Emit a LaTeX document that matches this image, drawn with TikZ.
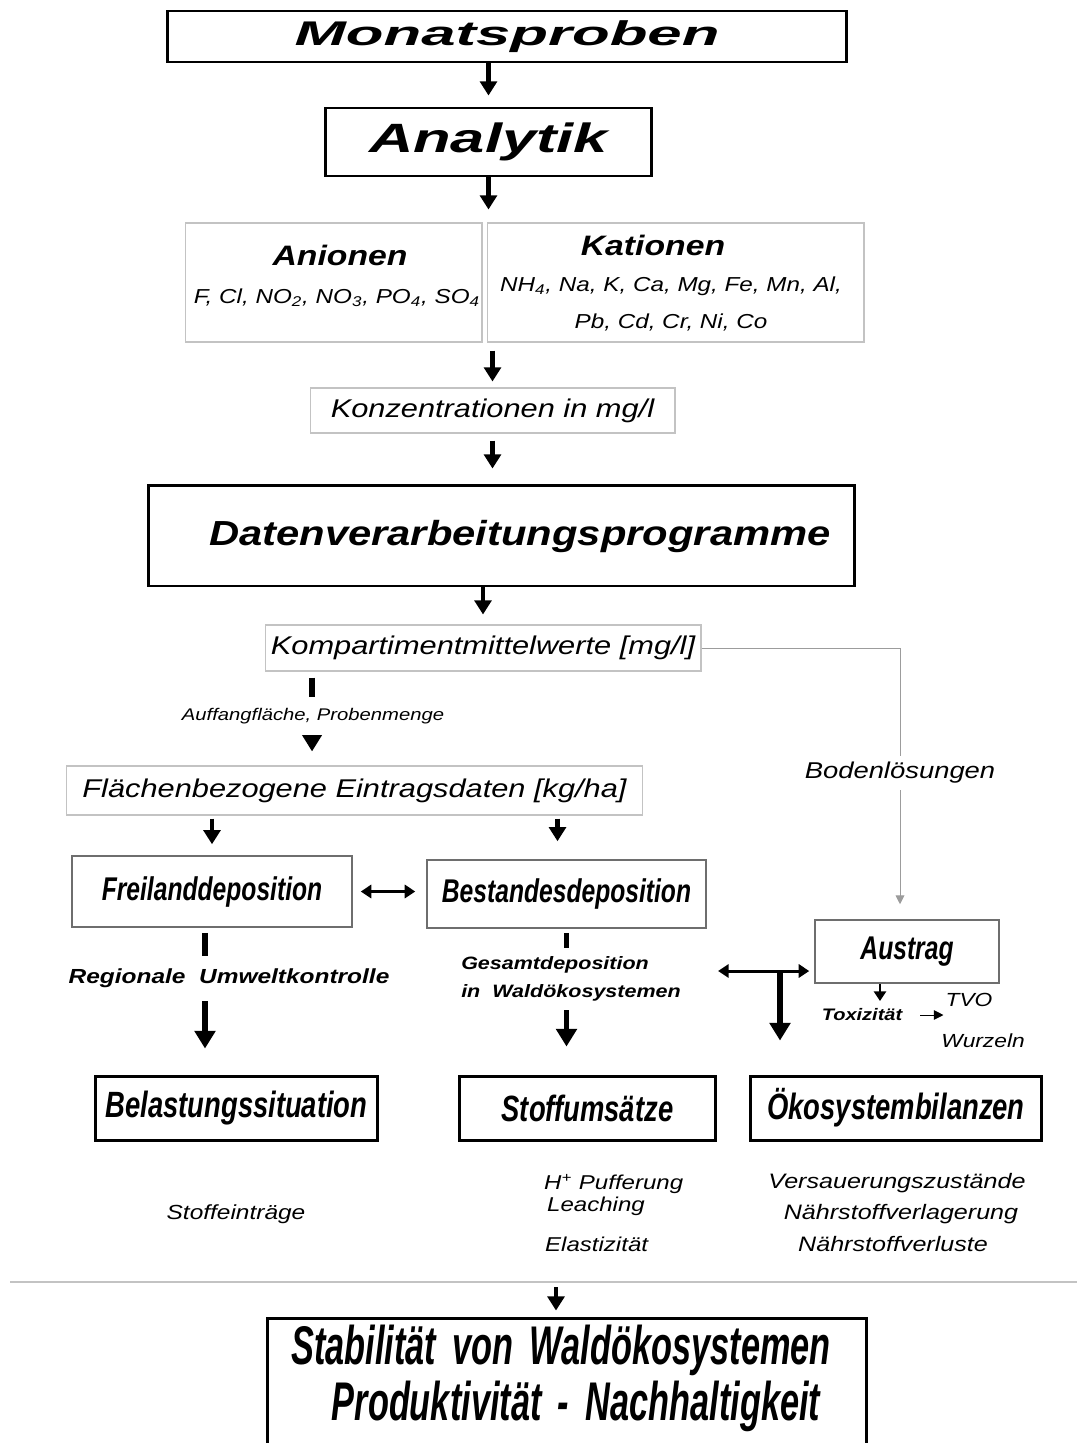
\documentclass[tikz,border=0pt]{standalone}
\usepackage{fontspec}
\setmainfont{Liberation Sans}[FakeStretch=1.2]
\newfontfamily\condfont{Liberation Sans}[FakeStretch=0.75]
\newfontfamily\tallfont{Liberation Sans}[FakeStretch=0.63]
\newfontfamily\widefont{Liberation Sans}[FakeStretch=1.5]
\newfontfamily\widerfont{Liberation Sans}[FakeStretch=1.8]
\usepackage{tikz}
\usetikzlibrary{arrows.meta}
\definecolor{boxgray}{RGB}{195,195,195}
\definecolor{midgray}{RGB}{110,110,110}
\newcommand{\fsz}[1]{\fontsize{#1}{#1}\selectfont}
\newcommand{\gap}{\hspace{0.3em}}

\begin{document}
\begin{tikzpicture}[x=0.02cm, y=-0.02cm]
    \tikzstyle{heavybox} = [rectangle, draw=black, line width=1.7pt]
    \tikzstyle{lightbox} = [rectangle, draw=boxgray, line width=0.6pt]
    \tikzstyle{midbox} = [rectangle, draw=midgray, line width=0.9pt]
    \tikzstyle{italictext} = [font=\itshape\fsz{14.6}]
    \tikzstyle{condhead} = [font=\condfont\bfseries\itshape\fsz{18.7}]
    \tikzstyle{resulthead} = [font=\condfont\bfseries\itshape\fsz{20.8}]
    \tikzstyle{flow} = [line width=2.4pt, -{Triangle[length=8pt,width=9.5pt]}]
    \tikzstyle{bigflow} = [line width=3.2pt, -{Triangle[length=10pt,width=11.5pt]}]
    \tikzstyle{twoway} = [line width=1.7pt, {Triangle[length=6pt,width=7.5pt]}-{Triangle[length=6pt,width=7.5pt]}]
    \tikzstyle{feed} = [draw=boxgray!80!black, line width=0.5pt, -{Triangle[length=5pt,width=5pt]}]
    \tikzstyle{smallhead} = [line width=1pt, -{Triangle[length=5.5pt,width=7pt]}]
    \tikzstyle{pointer} = [line width=0.5pt, -{Triangle[length=5.5pt,width=5.5pt]}]

    \useasboundingbox (0,0) rectangle (1077,1443);
    \clip (0,0) rectangle (1077,1443);

    % Sampling and analysis
    \node [heavybox, minimum width=13.6cm, minimum height=1.02cm, font=\widerfont\bfseries\itshape\fsz{19.5}] (monat) at (507,36.5) {Monatsproben};
    \node [heavybox, minimum width=6.54cm, minimum height=1.36cm, font=\widefont\bfseries\itshape\fsz{23.3}] (analytik) at (488.5,142) {Analytik};

    \node [lightbox, minimum width=5.94cm, minimum height=2.38cm] (anion) at (333.5,282.5) {};
    \node [lightbox, minimum width=7.54cm, minimum height=2.38cm] (kation) at (675.5,282.5) {};
    \node [font=\bfseries\itshape\fsz{16}] (anionhead) at (340,255) {Anionen};
    \node [font=\itshape\fsz{11.5}] (anionlist) at (337,298) {F, Cl, NO\textsubscript{2}, NO\textsubscript{3}, PO\textsubscript{4}, SO\textsubscript{4}};
    \node [font=\bfseries\itshape\fsz{16}] (kationhead) at (653,245) {Kationen};
    \node [font=\itshape\fontsize{11.5}{21.5}\selectfont, align=center] (kationlist) at (671,304) {NH\textsubscript{4}, Na, K, Ca, Mg, Fe, Mn, Al,\\Pb, Cd, Cr, Ni, Co};

    \node [lightbox, italictext, minimum width=7.3cm, minimum height=0.9cm] (konz) at (492.5,410.5) {Konzentrationen in mg/l};
    \node [heavybox, minimum width=14.14cm, minimum height=2.02cm] (daten) at (501.5,535.5) {};
    \node [font=\bfseries\itshape\fsz{19.8}] (datentext) at (520,537) {Datenverarbeitungsprogramme};
    \node [lightbox, italictext, minimum width=8.68cm, minimum height=0.92cm] (kompart) at (483,648) {Kompartimentmittelwerte [mg/l]};
    \node [lightbox, italictext, minimum width=11.54cm, minimum height=0.98cm] (flaech) at (354.5,790.5) {Flächenbezogene Eintragsdaten [kg/ha]};

    % Deposition
    \node [midbox, condhead, minimum width=5.6cm, minimum height=1.42cm] (frei) at (212,891.5) {Freilanddeposition};
    \node [midbox, condhead, minimum width=5.58cm, minimum height=1.36cm] (bestand) at (566.5,894) {Bestandesdeposition};
    \node [midbox, condhead, minimum width=3.68cm, minimum height=1.26cm] (austrag) at (907,951.5) {Austrag};

    % Results
    \node [heavybox, resulthead, minimum width=5.66cm, minimum height=1.28cm] (belast) at (236.5,1108) {Belastungssituation};
    \node [heavybox, resulthead, minimum width=5.14cm, minimum height=1.28cm] (stoff) at (587.5,1108) {Stoffumsätze};
    \node [heavybox, resulthead, minimum width=5.84cm, minimum height=1.28cm] (oeko) at (896,1108) {Ökosystembilanzen};

    \node [heavybox, minimum width=12cm, minimum height=3.04cm] (final) at (567,1394) {};
    \node [font=\tallfont\bfseries\itshape\fsz{31}] (stab) at (561,1350) {Stabilität\gap von\gap Waldökosystemen};
    \node [font=\tallfont\bfseries\itshape\fsz{31}] (prod) at (576,1406) {Produktivität\gap -\gap Nachhaltigkeit};

    % Main flow
    \draw [flow, shorten >=0.22cm] (monat.south -| analytik.north) -- (analytik.north);
    \draw [flow, shorten >=0.26cm] (analytik.south) -- (analytik.south |- kation.north);
    \draw [flow, shorten <=0.16cm, shorten >=0.12cm] (konz.north |- kation.south) -- (konz.north);
    \draw [flow, shorten <=0.14cm, shorten >=0.3cm] (konz.south) -- (konz.south |- daten.north);
    \draw [flow, shorten >=0.2cm] (daten.south -| kompart.north) -- (kompart.north);
    \draw [bigflow, shorten <=0.12cm, shorten >=0.28cm] ([xshift=-3.42cm]kompart.south) -- ([xshift=-3.42cm]kompart.south |- flaech.north);
    \node [font=\itshape\fsz{9.6}, fill=white, minimum height=0.76cm, inner sep=0.04cm] (auffang) at (313,716) {Auffangfläche, Probenmenge};
    \draw [flow, shorten <=0.06cm, shorten >=0.22cm] (flaech.south -| frei.north) -- (frei.north);
    \draw [flow, shorten <=0.06cm, shorten >=0.36cm] ([xshift=-0.18cm]flaech.south -| bestand.north) -- ([xshift=-0.18cm]bestand.north);
    \draw [twoway, shorten <=0.16cm, shorten >=0.22cm] (frei.east) -- (frei.east -| bestand.west);

    % Soil solution branch
    \draw [feed, shorten >=0.3cm] (kompart.east) -| ([xshift=-0.14cm]austrag.north);
    \node [font=\itshape\fsz{13}, fill=white, inner sep=0.12cm] (bodenl) at (900,773) {Bodenlösungen};

    % Towards the results
    \draw [bigflow, shorten <=0.1cm, shorten >=0.52cm] ([xshift=-0.14cm]frei.south) -- ([xshift=-0.14cm]frei.south |- belast.north);
    \node [font=\bfseries\itshape\fsz{11.6}, fill=white, minimum height=0.9cm, inner sep=0.04cm] (regional) at (229,978) {Regionale\ \ Umweltkontrolle};
    \draw [bigflow, shorten <=0.08cm, shorten >=0.56cm] (bestand.south) -- (bestand.south |- stoff.north);
    \node [font=\bfseries\itshape\fontsize{10.2}{15.9}\selectfont, align=left, fill=white, minimum height=1.24cm, inner sep=0.04cm] (gesamt) at (571,979) {Gesamtdeposition\\in\ \ Waldökosystemen};

    \coordinate (tee) at (780,971);
    \draw [twoway, shorten <=0.7cm, shorten >=0.1cm] (tee -| gesamt.east) -- (tee -| austrag.west);
    \draw [bigflow, shorten >=0.68cm] (tee) -- (tee |- oeko.north);

    % Austrag details
    \coordinate (toxtip) at (880,1001);
    \draw [smallhead] (austrag.south -| toxtip) -- (toxtip);
    \node [font=\bfseries\itshape\fsz{9.5}] (tox) at (862,1015) {Toxizität};
    \node [font=\itshape\fsz{10.8}] (tvo) at (969,1000) {TVO};
    \node [font=\itshape\fsz{10.8}] (wurzeln) at (983,1041) {Wurzeln};
    \draw [pointer, shorten <=0.24cm] (tox.east) -- ++(35,0);

    % Notes below the results
    \node [font=\itshape\fsz{11.6}] (stoffein) at (236,1214) {Stoffeinträge};
    \node [font=\itshape\fsz{11.4}, anchor=west] (puffer) at (538,1184) {H\textsuperscript{+} Pufferung};
    \node [font=\itshape\fsz{11.4}, anchor=west] (leach) at (541,1206) {Leaching};
    \node [font=\itshape\fsz{11.4}, anchor=west] (elast) at (539,1244) {Elastizität};
    \node [font=\itshape\fsz{11.9}] (versauer) at (897,1183) {Versauerungszustände};
    \node [font=\itshape\fsz{11.9}] (verlager) at (901,1214) {Nährstoffverlagerung};
    \node [font=\itshape\fsz{11.9}] (verlust) at (893,1244) {Nährstoffverluste};

    % Separator and goal
    \draw [boxgray, line width=1.2pt] (10,1282) -- (1077,1282);
    \coordinate (sepmid) at (556,1282);
    \draw [flow, shorten <=0.1cm, shorten >=0.12cm] (sepmid) -- (sepmid |- final.north);
\end{tikzpicture}
\end{document}
